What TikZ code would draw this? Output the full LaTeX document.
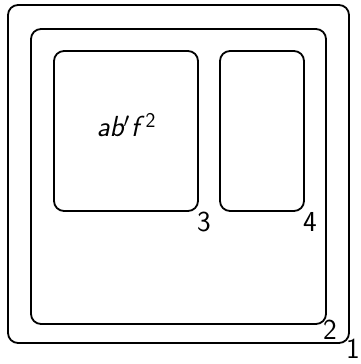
\documentclass[tikz,border=0pt]{standalone}
\usepackage{tikz}
\begin{document}
\begin{tikzpicture}[x=1pt,y=-1pt,
  region/.style={draw, line width=1.8pt, rounded corners=10pt},
  tag/.style={anchor=north west, inner sep=0pt, font=\sffamily\fontsize{29}{34}\selectfont}]
\useasboundingbox (0,0) rectangle (361,364);
% nested regions
\draw[region] (8,5) rectangle (349,343);
\draw[region] (31,29) rectangle (326,324);
\draw[region] (54,51) rectangle (198,211);
\draw[region] (220,51) rectangle (304,211);
% region labels
\node[tag] (l1) at (346,339) {1};
\node[tag] (l2) at (323,320) {2};
\node[tag] (l3) at (197,212) {3};
\node[tag] (l4) at (303,212) {4};
% term inside region 3
\node[font=\sffamily\fontsize{29}{34}\selectfont, inner sep=0pt] (t) at (126,125)
  {\textit{ab}\kern-1pt$'$\kern1pt\textit{f}\kern1pt\raisebox{8.5pt}{\fontsize{21}{24}\selectfont 2}};
\end{tikzpicture}
\end{document}
